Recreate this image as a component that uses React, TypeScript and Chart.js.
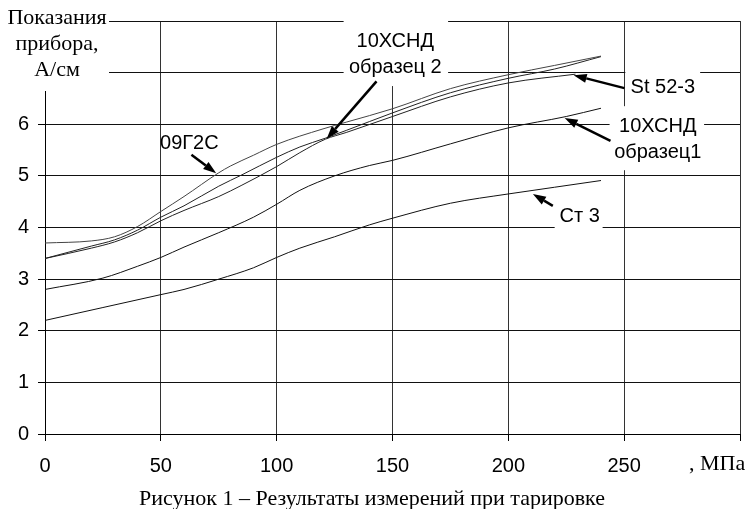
import React, { useEffect, useRef } from 'react';
import { Chart, registerables } from 'chart.js';

Chart.register(...registerables);

// ---- data (stress, MPa -> instrument reading, A/cm) ----
const x09G2S = [0, 20, 30, 40, 50, 60, 75, 80, 90, 100, 120, 130, 150, 175, 200, 220, 240];
const y09G2S = [3.7, 3.74, 3.82, 4.02, 4.31, 4.6, 5.06, 5.19, 5.4, 5.61, 5.91, 6.04, 6.3, 6.69, 6.96, 7.14, 7.32];

const xSample2 = [0, 20, 30, 40, 50, 60, 75, 85, 100, 110, 121, 130, 150, 175, 200, 220, 240];
const ySample2 = [3.4, 3.64, 3.76, 3.95, 4.2, 4.42, 4.8, 5.02, 5.36, 5.56, 5.73, 5.88, 6.22, 6.61, 6.89, 7.07, 7.31];

const xSt52 = [0, 20, 30, 40, 50, 60, 75, 85, 100, 110, 121, 130, 150, 175, 200, 229];
const ySt52 = [3.4, 3.6, 3.72, 3.9, 4.13, 4.33, 4.6, 4.82, 5.18, 5.45, 5.71, 5.84, 6.15, 6.53, 6.8, 6.97];

const xSample1 = [0, 25, 40, 50, 60, 75, 90, 100, 110, 125, 140, 150, 175, 200, 225, 240];
const ySample1 = [2.8, 3.02, 3.25, 3.42, 3.62, 3.9, 4.2, 4.45, 4.72, 5.0, 5.2, 5.3, 5.62, 5.93, 6.15, 6.31];

const xSt3 = [0, 25, 50, 60, 75, 90, 100, 110, 125, 140, 150, 175, 200, 220, 240];
const ySt3 = [2.2, 2.45, 2.7, 2.8, 3.0, 3.22, 3.42, 3.6, 3.82, 4.05, 4.18, 4.47, 4.65, 4.78, 4.91];

const xTickLabels = ['0', '50', '100', '150', '200', '250', ''];
const yTickLabels = ['0', '1', '2', '3', '4', '5', '6', '', ''];

const axisTitleLines = ['Показания', 'прибора,', 'А/см'];
const xUnitText = ', МПа';
const captionText = 'Рисунок 1 – Результаты измерений при тарировке';

// callouts (text, label anchor, arrow from/to, white box) in data units
const callouts = [
  { lines: ['09Г2С'], cx: 62.3, cy: [5.62], box: null, from: [63.2, 5.41], to: [73.9, 5.05] },
  { lines: ['10ХСНД', 'образец 2'], cx: 151.2, cy: [7.6, 7.1], box: [128.9, 6.74, 174.0, 8.3], from: [143.1, 6.83], to: [121.6, 5.72] },
  { lines: ['St 52-3'], cx: 266.7, cy: [6.72], box: [250.5, 6.41, 282.8, 7.14], from: [250.1, 6.7], to: [228.2, 6.95] },
  { lines: ['10ХСНД', 'образец1'], cx: 264.5, cy: [5.95, 5.45], box: [243.7, 5.11, 284.5, 6.35], from: [244.1, 5.68], to: [224.3, 6.12] },
  { lines: ['Ст 3'], cx: 230.8, cy: [4.21], box: [220.0, 3.95, 240.7, 4.49], from: [219.2, 4.42], to: [210.6, 4.65] },
];

const toPts = (xs: number[], ys: number[]) => xs.map((v, i) => ({ x: v, y: ys[i] }));

const SANS = "'Liberation Sans', Arial, sans-serif";
const SERIF = "'Liberation Serif', 'Times New Roman', serif";

const annotPlugin = {
  id: 'annot',
  afterDraw(chart: any) {
    const { ctx, scales } = chart;
    const X = (v: number) => scales.x.getPixelForValue(v);
    const Y = (v: number) => scales.y.getPixelForValue(v);
    ctx.save();
    // axis title box + text
    ctx.fillStyle = '#fff';
    ctx.fillRect(0, 0, 109, 91);
    ctx.fillStyle = '#000';
    ctx.font = `22px ${SERIF}`;
    ctx.textAlign = 'center';
    ctx.textBaseline = 'middle';
    axisTitleLines.forEach((t, i) => ctx.fillText(t, 57, 18 + i * 26));

    for (const c of callouts) {
      if (c.box) {
        const [x0, y0, x1, y1] = c.box;
        ctx.fillStyle = '#fff';
        ctx.fillRect(X(x0), Y(y1), X(x1) - X(x0), Y(y0) - Y(y1));
      }
      ctx.fillStyle = '#000';
      ctx.font = `20px ${SANS}`;
      ctx.textAlign = 'center';
      ctx.textBaseline = 'middle';
      c.lines.forEach((t, i) => ctx.fillText(t, X(c.cx), Y(c.cy[i])));
      // arrow
      const fx = X(c.from[0]), fy = Y(c.from[1]);
      const tx = X(c.to[0]), ty = Y(c.to[1]);
      const ang = Math.atan2(ty - fy, tx - fx);
      const hl = 13, hw = 4.5;
      const bx = tx - hl * Math.cos(ang), by = ty - hl * Math.sin(ang);
      ctx.strokeStyle = '#000';
      ctx.lineWidth = 2.5;
      ctx.beginPath();
      ctx.moveTo(fx, fy);
      ctx.lineTo(bx, by);
      ctx.stroke();
      ctx.beginPath();
      ctx.moveTo(tx, ty);
      ctx.lineTo(bx + hw * Math.sin(ang), by - hw * Math.cos(ang));
      ctx.lineTo(bx - hw * Math.sin(ang), by + hw * Math.cos(ang));
      ctx.closePath();
      ctx.fill();
    }

    // x unit and caption
    ctx.fillStyle = '#000';
    ctx.font = `22px ${SERIF}`;
    ctx.textAlign = 'left';
    ctx.textBaseline = 'alphabetic';
    ctx.fillText(xUnitText, 689, 470);
    ctx.textAlign = 'center';
    ctx.fillText(captionText, 372, 505);
    ctx.restore();
  },
};

export default function App() {
  const ref = useRef<HTMLCanvasElement>(null);
  useEffect(() => {
    document.body.style.margin = '0';
    const lineDs = (label: string, xs: number[], ys: number[], color: string) => ({
      label,
      data: toPts(xs, ys),
      borderColor: color,
      borderWidth: 1,
      pointRadius: 0,
      fill: false,
      cubicInterpolationMode: 'monotone' as const,
    });
    const chart = new Chart(ref.current!, {
      type: 'line',
      data: {
        datasets: [
          lineDs('09Г2С', x09G2S, y09G2S, '#444'),
          lineDs('10ХСНД образец 2', xSample2, ySample2, '#222'),
          lineDs('St 52-3', xSt52, ySt52, '#222'),
          lineDs('10ХСНД образец1', xSample1, ySample1, '#111'),
          lineDs('Ст 3', xSt3, ySt3, '#111'),
        ],
      },
      options: {
        animation: false,
        responsive: false,
        layout: { padding: { top: 17, right: 10, left: 0, bottom: 0 } },
        plugins: { legend: { display: false }, tooltip: { enabled: false } },
        scales: {
          x: {
            type: 'linear',
            min: 0,
            max: 300,
            afterFit: (s: any) => { s.height = 75; },
            ticks: {
              stepSize: 50,
              padding: 13,
              maxRotation: 0,
              color: '#000',
              font: { family: SANS, size: 20 },
              callback: (v: any) => xTickLabels[Math.round(Number(v) / 50)] ?? '',
            },
            grid: { color: '#333', lineWidth: 1, tickLength: 7, tickColor: '#000' },
            border: { display: true, color: '#000' },
          },
          y: {
            type: 'linear',
            min: 0,
            max: 8,
            afterFit: (s: any) => { s.width = 45; },
            ticks: {
              stepSize: 1,
              padding: 9,
              color: '#000',
              font: { family: SANS, size: 20 },
              callback: (v: any) => yTickLabels[Math.round(Number(v))] ?? '',
            },
            grid: { color: '#111', lineWidth: 1, tickLength: 7, tickColor: '#000' },
            border: { display: true, color: '#000' },
          },
        },
      },
      plugins: [annotPlugin],
    });
    return () => chart.destroy();
  }, []);
  return (
    <div style={{ position: 'absolute', left: 0, top: 0, width: 753, height: 509, background: '#fff' }}>
      <canvas ref={ref} width={753} height={509} />
    </div>
  );
}
